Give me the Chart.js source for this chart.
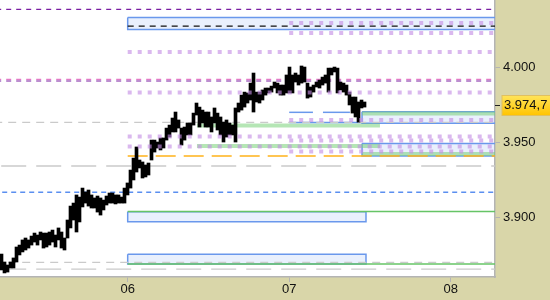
<!DOCTYPE html>
<html>
<head>
<meta charset="utf-8">
<script src="https://cdn.jsdelivr.net/npm/chart.js@4"></script>
<style>
  body { margin: 0; background: #d9d6a9; }
  #wrap { width: 550px; height: 300px; }
</style>
</head>
<body>
<div id="wrap"><canvas id="chart" width="550" height="300"></canvas></div>
<script>
// bar times (day of month) and high / low per bar
const firstBarDay = 5.2186;
const barStep = 0.018576;
const barHigh = [3875.3, 3870.0, 3868.0, 3870.0, 3872.7, 3880.0, 3881.3, 3884.7, 3886.0, 3884.7,
    3887.3, 3889.3, 3888.0, 3890.0, 3889.3, 3889.3, 3890.0, 3891.3, 3888.0, 3892.7,
    3890.0, 3886.0, 3898.0, 3907.3, 3909.3, 3914.7, 3913.3, 3919.3, 3916.7, 3918.0,
    3914.7, 3912.7, 3914.0, 3912.7, 3911.3, 3914.0, 3916.0, 3916.0, 3914.7, 3914.7,
    3913.3, 3919.3, 3922.7, 3931.3, 3939.3, 3946.7, 3938.0, 3936.7, 3934.7, 3936.0,
    3951.3, 3951.3, 3950.0, 3952.7, 3952.7, 3959.3, 3961.3, 3966.0, 3970.0, 3964.7,
    3959.3, 3960.0, 3962.7, 3962.7, 3969.3, 3976.0, 3973.3, 3971.3, 3970.0, 3970.0,
    3966.7, 3972.7, 3969.3, 3966.7, 3963.3, 3964.7, 3962.7, 3961.3, 3972.7, 3976.0,
    3981.3, 3983.3, 3982.7, 3989.3, 3996.0, 3983.3, 3983.3, 3984.7, 3986.0, 3986.0,
    3987.3, 3990.0, 3989.3, 3988.0, 3988.0, 3994.7, 4000.0, 3994.7, 3996.0, 3994.7,
    4000.7, 4000.0, 3989.3, 3986.7, 3988.0, 3990.0, 3991.3, 3993.3, 3994.7, 3999.3,
    3999.3, 4000.0, 3999.3, 3990.0, 3989.3, 3988.0, 3983.3, 3980.0, 3980.0, 3976.7,
    3978.0, 3976.7];
const barLow = [3864.7, 3862.7, 3863.3, 3866.0, 3866.0, 3870.0, 3874.7, 3876.7, 3878.0, 3879.3,
    3881.3, 3883.3, 3881.3, 3884.7, 3879.3, 3880.0, 3881.3, 3883.3, 3880.0, 3884.7,
    3879.3, 3878.0, 3886.0, 3892.7, 3898.0, 3890.0, 3896.7, 3906.7, 3909.3, 3907.3,
    3906.0, 3906.0, 3903.3, 3901.3, 3904.7, 3908.0, 3909.3, 3909.3, 3908.7, 3909.3,
    3909.3, 3909.3, 3914.7, 3919.3, 3924.7, 3930.0, 3932.7, 3926.0, 3926.7, 3928.0,
    3938.0, 3943.3, 3946.0, 3944.7, 3946.0, 3951.3, 3953.3, 3956.7, 3956.7, 3959.3,
    3948.0, 3951.3, 3954.7, 3954.7, 3961.3, 3968.0, 3960.0, 3962.7, 3960.0, 3960.0,
    3956.7, 3962.7, 3958.0, 3954.7, 3950.0, 3953.3, 3954.7, 3954.7, 3950.0, 3970.0,
    3971.3, 3973.3, 3976.0, 3978.0, 3970.0, 3976.7, 3976.0, 3978.0, 3981.3, 3982.7,
    3983.3, 3986.0, 3982.7, 3981.3, 3981.3, 3982.7, 3982.7, 3982.7, 3990.0, 3988.0,
    3989.3, 3990.0, 3979.3, 3980.0, 3983.3, 3986.7, 3986.0, 3988.0, 3989.3, 3983.3,
    3994.7, 3996.7, 3982.7, 3984.7, 3983.3, 3981.3, 3974.7, 3969.3, 3966.7, 3963.3,
    3972.7, 3973.3];
const lastPrice = 3974.7;

const dayTicks = [6, 7, 8];
const dayLabels = ['06', '07', '08'];
const priceTicks = [3900, 3950, 4000];
const dayMin = 5.2093, dayMax = 8.2743;

// horizontal levels: price, from day, to day
const purpleLevels = [[4038.5, 5, 9], [3990.7, 5, 9]];
const pinkLevels = [[3991.8, 5, 9]];
const blackLevels = [[4027.3, 6.0, 9]];
const grayLongLevels = [[3934.0, 5, 9], [3865.3, 5, 9]];
const grayShortLevels = [[3963.1, 5, 9], [3869.8, 5, 9]];
const blueDashLevels = [[3916.5, 5, 9]];
const orangeLevels = [[3940.7, 6.0, 9]];
const greenLines = [[3903.7, 6.0, 9], [3868.7, 6.0, 9]];
const greenBands = [[3961.0, 6.429, 7.562], [3947.3, 6.429, 7.562], [3969.0, 7.451, 9], [3942.0, 7.451, 9]];
const blueLines = [[3969.8, 7.0, 7.147], [3969.8, 7.209, 7.376], [3963.1, 7.0, 7.451]];
const lilacLevels = [[4029.3, 7.0, 9], [4022.7, 7.0, 9], [4010.0, 6.0, 9], [3983.0, 6.0, 9],
    [3964.7, 7.0, 9], [3953.7, 6.0, 9], [3951.0, 7.0, 9], [3947.0, 6.0, 9], [3943.7, 7.0, 9]];
// zones: top, bottom, from day, to day
const zones = [[4033.1, 4025.1, 6.0, 9], [3970.2, 3962.5, 7.451, 9], [3949.0, 3940.7, 7.451, 9],
    [3903.5, 3896.9, 6.0, 7.4755], [3875.1, 3868.7, 6.0, 7.4755]];

function germanNum(v, dec) {
    const parts = v.toFixed(dec).split('.');
    parts[0] = parts[0].replace(/\B(?=(\d{3})+(?!\d))/g, '.');
    return parts.join(',');
}

const datasets = [];

function addLevels(list, style, order) {
    list.forEach(l => {
        datasets.push(Object.assign({
            type: 'line',
            data: [{ x: l[1], y: l[0] }, { x: l[2], y: l[0] }],
            pointRadius: 0,
            fill: false,
            order: order
        }, style));
    });
}

zones.forEach(z => {
    datasets.push({
        type: 'line',
        data: [{ x: z[2], y: z[0] }, { x: z[3], y: z[0] }, { x: z[3], y: z[1] }, { x: z[2], y: z[1] }, { x: z[2], y: z[0] }],
        borderColor: '#6a98ec',
        borderWidth: 1.5,
        backgroundColor: 'rgba(120,160,245,0.16)',
        fill: 'shape',
        pointRadius: 0,
        order: 40
    });
});

addLevels(greenBands, { borderColor: 'rgba(120,210,120,0.55)', borderWidth: 4 }, 35);
addLevels(greenLines, { borderColor: '#66c466', borderWidth: 1.5 }, 32);
addLevels(grayLongLevels, { borderColor: '#cacaca', borderWidth: 1.3, borderDash: [25, 10] }, 30);
addLevels(grayShortLevels, { borderColor: '#cacaca', borderWidth: 1.3, borderDash: [8, 6] }, 30);
addLevels(blueDashLevels, { borderColor: '#5b8ff0', borderWidth: 1.3, borderDash: [5, 4] }, 30);
addLevels(orangeLevels, { borderColor: '#ffb21a', borderWidth: 1.5, borderDash: [20, 8] }, 30);
addLevels(blueLines, { borderColor: '#6a98ec', borderWidth: 1.5 }, 30);
addLevels(purpleLevels, { borderColor: '#7a1fa2', borderWidth: 1.2, borderDash: [5, 5] }, 30);
addLevels(pinkLevels, { borderColor: '#e27ac6', borderWidth: 1.2, borderDash: [5, 5] }, 30);
addLevels(blackLevels, { borderColor: '#111111', borderWidth: 1.3, borderDash: [6, 5] }, 30);

datasets.push({
    type: 'bar',
    data: barHigh.map((h, i) => ({ x: firstBarDay + i * barStep, y: [barLow[i], h] })),
    backgroundColor: '#000000',
    borderWidth: 0,
    barThickness: 3,
    order: 20
});

addLevels(lilacLevels, { borderColor: 'rgba(195,140,228,0.62)', borderWidth: 4, borderDash: [4, 6], borderCapStyle: 'butt' }, 10);

const panelBg = {
    id: 'panelBg',
    beforeDraw(chart) {
        const { ctx, chartArea: a } = chart;
        ctx.save();
        ctx.fillStyle = '#d9d6a9';
        ctx.fillRect(0, 0, chart.width, chart.height);
        ctx.fillStyle = '#ffffff';
        ctx.fillRect(a.left, a.top, a.right - a.left, a.bottom - a.top);
        ctx.restore();
    }
};

const priceTag = {
    id: 'priceTag',
    afterDraw(chart) {
        const { ctx, chartArea: a } = chart;
        const y = Math.round(chart.scales.y.getPixelForValue(lastPrice)) + 0.5;
        ctx.save();
        ctx.strokeStyle = '#222';
        ctx.lineWidth = 1;
        ctx.beginPath();
        ctx.moveTo(a.right, y);
        ctx.lineTo(a.right + 5, y);
        ctx.stroke();
        const g = ctx.createLinearGradient(0, y - 10, 0, y + 10);
        g.addColorStop(0, '#ffe45a');
        g.addColorStop(1, '#ffc400');
        ctx.fillStyle = g;
        ctx.fillRect(a.right + 7, y - 10, 60, 20);
        ctx.strokeStyle = '#e0c060';
        ctx.strokeRect(a.right + 7, y - 10, 60, 20);
        ctx.fillStyle = '#111';
        ctx.font = '13px "Liberation Sans", Arial, sans-serif';
        ctx.textBaseline = 'middle';
        ctx.fillText(germanNum(lastPrice, 1), a.right + 9, y);
        ctx.restore();
    }
};

new Chart(document.getElementById('chart'), {
    type: 'bar',
    data: { datasets: datasets },
    options: {
        responsive: false,
        animation: false,
        layout: { padding: 0 },
        plugins: { legend: { display: false }, tooltip: { enabled: false } },
        scales: {
            x: {
                type: 'linear',
                min: dayMin,
                max: dayMax,
                offset: false,
                afterBuildTicks: s => { s.ticks = dayTicks.map(v => ({ value: v })); },
                afterFit: s => { s.height = 23; s.paddingLeft = 0; s.paddingRight = 0; },
                grid: { display: true, offset: false, drawOnChartArea: false, drawTicks: true, tickLength: 5, color: '#b4b4b4' },
                border: { display: true, color: '#b4b4b4', width: 1.5 },
                ticks: {
                    padding: 0,
                    maxRotation: 0,
                    color: '#111',
                    font: { family: '"Liberation Sans", Arial, sans-serif', size: 13 },
                    callback: v => dayLabels[dayTicks.indexOf(v)]
                }
            },
            y: {
                type: 'linear',
                position: 'right',
                min: 3860,
                max: 4044.7,
                afterBuildTicks: s => { s.ticks = priceTicks.map(v => ({ value: v })); },
                afterFit: s => { s.width = 55; s.paddingTop = 0; s.paddingBottom = 0; },
                grid: { display: true, drawOnChartArea: false, drawTicks: true, tickLength: 5, color: '#b4b4b4' },
                border: { display: true, color: '#b4b4b4', width: 1.5 },
                ticks: {
                    padding: 3,
                    color: '#111',
                    font: { family: '"Liberation Sans", Arial, sans-serif', size: 13 },
                    callback: v => germanNum(v, 0)
                }
            }
        }
    },
    plugins: [panelBg, priceTag]
});
</script>
</body>
</html>
